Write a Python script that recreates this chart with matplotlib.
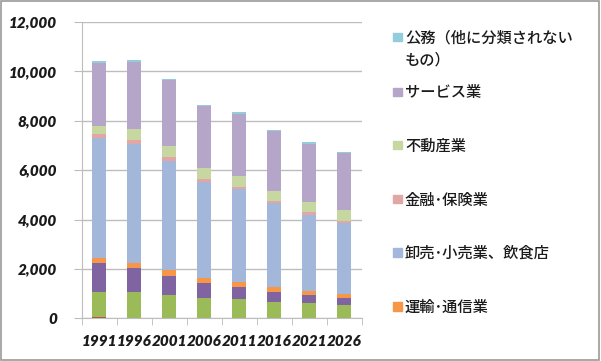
import matplotlib
matplotlib.use("Agg")
import matplotlib.pyplot as plt
import matplotlib.patches as mpatches
import numpy as np

plt.rcParams['font.family'] = ['Noto Sans CJK JP', 'DejaVu Sans']

years = ['1991', '1996', '2001', '2006', '2011', '2016', '2021', '2026']

# stacked from the bottom up
agri = [60, 0, 0, 0, 0, 0, 0, 0]
construction = [1016, 1076, 942, 809, 780, 671, 619, 538]
manufacturing = [1148, 970, 781, 606, 486, 405, 323, 295]
transport = [227, 190, 242, 215, 214, 190, 162, 162]
retail = [4869, 4841, 4396, 3894, 3737, 3385, 3073, 2871]
finance = [145, 134, 162, 122, 105, 105, 134, 81]
realestate = [324, 444, 457, 444, 445, 392, 404, 445]
service = [2548, 2722, 2685, 2508, 2495, 2426, 2346, 2293]
public = [68, 69, 30, 30, 80, 50, 70, 40]

series = [
    ('農林水産業', agri, '#C0504D', False),
    ('建設業', construction, '#9BBB59', False),
    ('製造業', manufacturing, '#8064A2', False),
    ('運輸･通信業', transport, '#F79646', True),
    ('卸売･小売業、飲食店', retail, '#A3B7DA', True),
    ('金融･保険業', finance, '#E2A6A5', True),
    ('不動産業', realestate, '#C7D7A2', True),
    ('サービス業', service, '#B4A5C9', True),
    ('公務（他に分類されない\nもの）', public, '#93CDDD', True),
]

fig = plt.figure(figsize=(6.01, 3.61), dpi=100)
ax = fig.add_axes([0.1364, 0.1183, 0.4659, 0.8207])

x = np.arange(len(years))
bottom = np.zeros(len(years))
for name, vals, col, _ in series:
    ax.bar(x, vals, width=0.4, bottom=bottom, color=col, edgecolor='none', zorder=3)
    bottom += np.array(vals)

ax.set_xlim(-0.5, len(years) - 0.5)
ax.set_ylim(0, 12000)
ax.set_yticks(np.arange(0, 12001, 2000))
ax.set_yticklabels([f'{v:,}' for v in range(0, 12001, 2000)])
ax.set_xticks(x)
ax.set_xticklabels(years)
ax.set_xticks(np.arange(-0.5, len(years)), minor=True)

grid_col = '#BDBDBD'
ax.grid(axis='y', color=grid_col, linewidth=1, zorder=0)
for s in ['top', 'right']:
    ax.spines[s].set_visible(False)
ax.spines['left'].set_color(grid_col)
ax.spines['bottom'].set_color(grid_col)
ax.tick_params(axis='y', length=6, color=grid_col, pad=12)
ax.tick_params(axis='x', which='major', length=0, pad=12)
ax.tick_params(axis='x', which='minor', length=5, color=grid_col)

for lab in ax.get_xticklabels() + ax.get_yticklabels():
    lab.set_fontfamily('Lato')
    lab.set_fontweight('heavy')
    lab.set_fontstyle('italic')
    lab.set_fontsize(11)
    lab.set_color('#1a1a1a')

# legend, top entry first
legend_items = [s for s in series if s[3]][::-1]
y_pos = [36.7, 91.7, 145, 199, 252, 306]
for (name, _, col, _), yp in zip(legend_items, y_pos):
    fy = 1 - yp / 361
    fig.patches.append(mpatches.Rectangle((393 / 601, fy - 4.5 / 361), 8.5 / 601, 8.5 / 361,
                                          transform=fig.transFigure, color=col))
    fig.text(405 / 601, fy + 7.5 / 361, name, fontsize=11, va='top', ha='left',
             color='#1a1a1a', linespacing=1.42, fontweight='medium')

fig.patches.append(mpatches.Rectangle((0.002, 0.004), 0.994, 0.992, transform=fig.transFigure,
                                      fill=False, edgecolor='#9A9A9A', linewidth=1.2))

fig.savefig('out.png', dpi=100)
